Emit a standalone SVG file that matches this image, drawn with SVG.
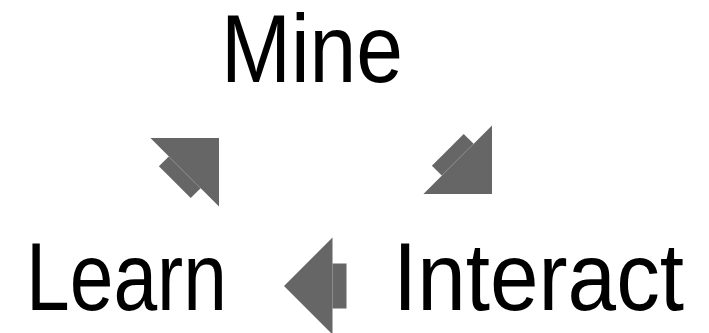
<svg xmlns="http://www.w3.org/2000/svg" width="709" height="333" viewBox="0 0 709 333">
<defs>
<style>
.lbl{font-family:"Liberation Sans","DejaVu Sans",sans-serif;font-size:96px;fill:#000}
.ah{fill:#666666}
</style>
<g id="arrowShape">
<polygon class="ah" points="0,0 48.5,-48.5 48.5,48.5"/>
<rect class="ah" x="48.5" y="-22.5" width="14" height="45"/>
</g>
</defs>
<rect width="709" height="333" fill="#fff"/>
<g id="mine"><text class="lbl" x="221" y="82" textLength="182" lengthAdjust="spacingAndGlyphs">Mine</text></g>
<g id="learn"><text class="lbl" x="26" y="310" textLength="201" lengthAdjust="spacingAndGlyphs">Learn</text></g>
<g id="interact"><text class="lbl" x="393" y="310" textLength="291" lengthAdjust="spacingAndGlyphs">Interact</text></g>
<g id="connectors">
<use href="#arrowShape" transform="translate(219,138) rotate(135)"/>
<use href="#arrowShape" transform="translate(492,194) rotate(225)"/>
<use href="#arrowShape" transform="translate(284,286)"/>
</g>
</svg>
